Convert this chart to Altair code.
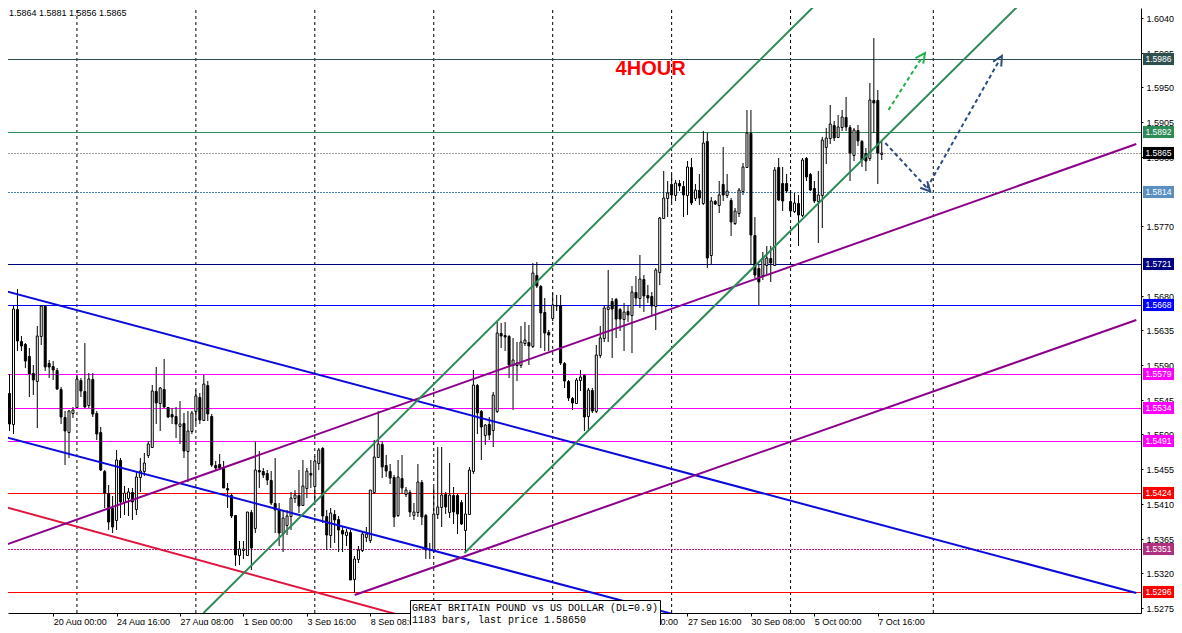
import altair as alt
import pandas as pd

# ---------------- candles (4H bars, index 0 = leftmost visible bar) ----------------
opens = [
 1.5575,1.5554,1.5513,1.5662,1.5621,1.5617,1.5602,1.5580,1.5569,1.5627,
 1.5666,1.5592,1.5589,1.5583,1.5559,1.5522,1.5503,1.5528,1.5536,1.5571,
 1.5556,1.5538,1.5572,1.5528,1.5503,1.5453,1.5424,1.5405,1.5389,1.5467,
 1.5413,1.5418,1.5426,1.5403,1.5445,1.5452,1.5474,1.5484,1.5556,1.5541,
 1.5559,1.5535,1.5526,1.5524,1.5511,1.5515,1.5478,1.5505,1.5530,1.5549,
 1.5519,1.5564,1.5524,1.5461,1.5462,1.5456,1.5431,1.5422,1.5395,1.5344,
 1.5350,1.5344,1.5400,1.5379,1.5454,1.5452,1.5450,1.5441,1.5411,1.5403,
 1.5372,1.5383,1.5394,1.5418,1.5422,1.5409,1.5431,1.5450,1.5433,1.5463,
 1.5482,1.5394,1.5370,1.5397,1.5391,1.5376,1.5370,1.5374,1.5313,1.5339,
 1.5350,1.5367,1.5363,1.5426,1.5471,1.5488,1.5460,1.5452,1.5445,1.5395,
 1.5443,1.5423,1.5426,1.5395,1.5400,1.5439,1.5395,1.5352,1.5350,1.5397,
 1.5406,1.5423,1.5400,1.5421,1.5421,1.5413,1.5376,1.5397,1.5452,1.5564,
 1.5530,1.5499,1.5514,1.5506,1.5530,1.5631,1.5629,1.5627,1.5590,1.5590,
 1.5590,1.5618,1.5620,1.5614,1.5707,1.5692,1.5659,1.5633,1.5651,1.5668,
 1.5668,1.5592,1.5569,1.5547,1.5541,1.5570,1.5577,1.5524,1.5558,1.5530,
 1.5603,1.5625,1.5662,1.5673,1.5675,1.5662,1.5649,1.5660,1.5655,1.5685,
 1.5677,1.5701,1.5681,1.5679,1.5666,1.5711,1.5780,1.5806,1.5824,1.5811,
 1.5826,1.5822,1.5811,1.5847,1.5806,1.5817,1.5800,1.5880,1.5733,1.5802,
 1.5798,1.5825,1.5811,1.5804,1.5774,1.5787,1.5815,1.5847,1.5891,1.5759,
 1.5716,1.5707,1.5720,1.5729,1.5720,1.5847,1.5826,1.5826,1.5802,1.5789,
 1.5800,1.5785,1.5858,1.5837,1.5819,1.5802,1.5811,1.5873,1.5884,1.5901,
 1.5886,1.5899,1.5912,1.5899,1.5862,1.5895,1.5880,1.5865,1.5858,1.5934,
 1.5934,1.5864]
highs = [
 1.5580,1.5578,1.5668,1.5688,1.5627,1.5618,1.5612,1.5590,1.5640,1.5668,
 1.5668,1.5597,1.5595,1.5586,1.5562,1.5530,1.5532,1.5536,1.5577,1.5573,
 1.5618,1.5580,1.5580,1.5530,1.5510,1.5454,1.5435,1.5420,1.5480,1.5469,
 1.5433,1.5430,1.5430,1.5452,1.5469,1.5476,1.5491,1.5564,1.5588,1.5562,
 1.5598,1.5536,1.5534,1.5536,1.5543,1.5528,1.5530,1.5530,1.5558,1.5554,
 1.5577,1.5569,1.5526,1.5465,1.5475,1.5465,1.5437,1.5424,1.5395,1.5362,
 1.5362,1.5400,1.5402,1.5491,1.5478,1.5456,1.5454,1.5452,1.5469,1.5411,
 1.5402,1.5402,1.5426,1.5428,1.5454,1.5467,1.5456,1.5467,1.5472,1.5482,
 1.5484,1.5402,1.5405,1.5402,1.5394,1.5381,1.5378,1.5376,1.5342,1.5355,
 1.5374,1.5380,1.5428,1.5493,1.5530,1.5491,1.5473,1.5462,1.5447,1.5467,
 1.5473,1.5432,1.5428,1.5411,1.5462,1.5441,1.5397,1.5359,1.5432,1.5484,
 1.5484,1.5426,1.5463,1.5432,1.5423,1.5415,1.5423,1.5458,1.5583,1.5566,
 1.5532,1.5514,1.5522,1.5555,1.5646,1.5644,1.5646,1.5629,1.5625,1.5620,
 1.5640,1.5646,1.5642,1.5722,1.5724,1.5694,1.5677,1.5636,1.5683,1.5681,
 1.5681,1.5594,1.5571,1.5549,1.5573,1.5584,1.5579,1.5560,1.5560,1.5616,
 1.5640,1.5668,1.5713,1.5677,1.5677,1.5664,1.5670,1.5668,1.5692,1.5705,
 1.5733,1.5707,1.5694,1.5685,1.5716,1.5782,1.5841,1.5828,1.5837,1.5830,
 1.5830,1.5828,1.5854,1.5858,1.5824,1.5837,1.5893,1.5891,1.5808,1.5804,
 1.5828,1.5873,1.5837,1.5806,1.5793,1.5819,1.5852,1.5921,1.5921,1.5782,
 1.5720,1.5737,1.5744,1.5744,1.5847,1.5858,1.5847,1.5837,1.5817,1.5813,
 1.5811,1.5858,1.5860,1.5839,1.5828,1.5841,1.5886,1.5897,1.5927,1.5906,
 1.5914,1.5921,1.5938,1.5901,1.5897,1.5901,1.5882,1.5871,1.5955,1.6014,
 1.5947,1.5881]
lows = [
 1.5538,1.5504,1.5500,1.5608,1.5608,1.5586,1.5549,1.5551,1.5508,1.5616,
 1.5582,1.5573,1.5571,1.5558,1.5513,1.5461,1.5469,1.5521,1.5534,1.5549,
 1.5534,1.5534,1.5523,1.5493,1.5452,1.5405,1.5376,1.5372,1.5376,1.5392,
 1.5396,1.5394,1.5389,1.5396,1.5426,1.5446,1.5470,1.5482,1.5513,1.5504,
 1.5534,1.5521,1.5513,1.5495,1.5487,1.5469,1.5439,1.5500,1.5513,1.5513,
 1.5517,1.5517,1.5458,1.5454,1.5454,1.5430,1.5405,1.5392,1.5329,1.5331,
 1.5338,1.5342,1.5324,1.5372,1.5430,1.5444,1.5435,1.5409,1.5372,1.5355,
 1.5348,1.5370,1.5376,1.5411,1.5398,1.5407,1.5418,1.5430,1.5411,1.5454,
 1.5385,1.5350,1.5353,1.5359,1.5348,1.5348,1.5356,1.5311,1.5294,1.5333,
 1.5348,1.5360,1.5359,1.5423,1.5471,1.5443,1.5445,1.5436,1.5380,1.5393,
 1.5423,1.5419,1.5393,1.5389,1.5393,1.5382,1.5339,1.5339,1.5346,1.5390,
 1.5380,1.5397,1.5392,1.5384,1.5371,1.5382,1.5347,1.5395,1.5449,1.5501,
 1.5467,1.5486,1.5493,1.5484,1.5528,1.5612,1.5608,1.5573,1.5532,1.5569,
 1.5586,1.5614,1.5590,1.5612,1.5690,1.5612,1.5608,1.5608,1.5647,1.5660,
 1.5590,1.5560,1.5543,1.5532,1.5539,1.5556,1.5504,1.5504,1.5528,1.5528,
 1.5599,1.5620,1.5620,1.5599,1.5625,1.5634,1.5608,1.5646,1.5605,1.5668,
 1.5664,1.5659,1.5670,1.5655,1.5636,1.5694,1.5780,1.5782,1.5800,1.5802,
 1.5815,1.5782,1.5785,1.5798,1.5802,1.5798,1.5798,1.5716,1.5720,1.5798,
 1.5787,1.5802,1.5806,1.5757,1.5772,1.5782,1.5811,1.5845,1.5720,1.5703,
 1.5666,1.5700,1.5707,1.5698,1.5720,1.5802,1.5789,1.5813,1.5782,1.5787,
 1.5744,1.5782,1.5828,1.5815,1.5800,1.5748,1.5767,1.5850,1.5876,1.5880,
 1.5884,1.5893,1.5893,1.5828,1.5854,1.5874,1.5847,1.5841,1.5854,1.5891,
 1.5824,1.5856]
closes = [
 1.5551,1.5513,1.5662,1.5621,1.5615,1.5595,1.5578,1.5570,1.5627,1.5666,
 1.5588,1.5588,1.5584,1.5559,1.5522,1.5504,1.5530,1.5532,1.5572,1.5556,
 1.5536,1.5572,1.5526,1.5500,1.5454,1.5424,1.5387,1.5380,1.5467,1.5413,
 1.5424,1.5426,1.5413,1.5445,1.5452,1.5463,1.5487,1.5556,1.5541,1.5560,
 1.5536,1.5523,1.5523,1.5513,1.5513,1.5478,1.5505,1.5528,1.5550,1.5519,
 1.5565,1.5526,1.5461,1.5457,1.5456,1.5431,1.5428,1.5394,1.5344,1.5351,
 1.5352,1.5400,1.5353,1.5454,1.5451,1.5448,1.5441,1.5411,1.5402,1.5372,
 1.5392,1.5394,1.5418,1.5422,1.5407,1.5433,1.5452,1.5448,1.5465,1.5480,
 1.5394,1.5370,1.5398,1.5389,1.5376,1.5371,1.5374,1.5311,1.5339,1.5350,
 1.5371,1.5371,1.5428,1.5471,1.5488,1.5458,1.5452,1.5443,1.5393,1.5445,
 1.5430,1.5428,1.5400,1.5400,1.5439,1.5393,1.5350,1.5350,1.5397,1.5406,
 1.5421,1.5406,1.5422,1.5400,1.5397,1.5384,1.5397,1.5454,1.5564,1.5528,
 1.5510,1.5512,1.5499,1.5551,1.5631,1.5627,1.5626,1.5590,1.5597,1.5592,
 1.5620,1.5622,1.5614,1.5709,1.5692,1.5657,1.5631,1.5629,1.5668,1.5666,
 1.5592,1.5569,1.5547,1.5541,1.5570,1.5575,1.5522,1.5558,1.5530,1.5603,
 1.5625,1.5664,1.5665,1.5662,1.5649,1.5649,1.5659,1.5655,1.5685,1.5677,
 1.5702,1.5679,1.5677,1.5666,1.5713,1.5780,1.5806,1.5813,1.5811,1.5826,
 1.5822,1.5811,1.5847,1.5800,1.5817,1.5806,1.5878,1.5729,1.5802,1.5799,
 1.5811,1.5811,1.5815,1.5776,1.5789,1.5817,1.5847,1.5891,1.5759,1.5707,
 1.5698,1.5729,1.5729,1.5722,1.5843,1.5804,1.5802,1.5815,1.5789,1.5800,
 1.5785,1.5856,1.5834,1.5817,1.5802,1.5811,1.5882,1.5884,1.5902,1.5884,
 1.5899,1.5912,1.5899,1.5865,1.5895,1.5880,1.5856,1.5854,1.5934,1.5929,
 1.5865,1.5865]
bar_index = list(range(len(opens)))

# ---------------- horizontal price levels ----------------
level_prices = [1.5986, 1.5892, 1.5865, 1.5814, 1.5721, 1.5668, 1.5579, 1.5534, 1.5491, 1.5424, 1.5351, 1.5296]
level_line_colors = ["#2F4F4F", "#2E8B57", "#A0A0A0", "#4682B4", "#000080", "#0000FF",
                     "#FF00FF", "#FF00FF", "#FF00FF", "#FF0000", "#C71585", "#FF0000"]
level_box_colors = ["#2F4F4F", "#2E8B57", "#000000", "#5A8FC0", "#000080", "#0000FF",
                    "#FF00FF", "#FF00FF", "#FF00FF", "#FF0000", "#B03080", "#FF0000"]
level_dotted = [False, False, True, True, False, False, False, False, False, False, True, False]

# ---------------- trend lines (bar index, price) ----------------
trend_b0 = [-0.075, -0.075, -0.075, -0.075, 88.05, 49.925, 115.75]
trend_p0 = [1.568529, 1.549669, 1.540661, 1.535671, 1.529190, 1.526857, 1.534595]
trend_b1 = [285.2, 285.2, 285.2, 285.2, 285.2, 205.5, 256.9]
trend_p1 = [1.529449, 1.510784, 1.500363, 1.587647, 1.564834, 1.606312, 1.606312]
trend_colors = ["#0A0ADC", "#0A0ADC", "#E0143C", "#8B008B", "#8B008B", "#2E8B57", "#2E8B57"]

# ---------------- dashed forecast arrows ----------------
arrow_b0 = [222.7, 221.9, 232.4]
arrow_p0 = [1.592054, 1.587777, 1.581944]
arrow_b1 = [231.2, 232.4, 250.7]
arrow_p1 = [1.598924, 1.581944, 1.598535]
arrow_colors = ["#22B14C", "#2B4C7E", "#2B4C7E"]
arrow_angles = [36, 137, 30]

# ---------------- grid / axis ----------------
grid_bars = [18, 48, 78, 108, 138, 168, 198, 234]
# tick labels (those fully covered by the info box / price boxes in the original are not drawn)
time_tick_bars = [-4, 12, 28, 44, 60, 76, 92, 156, 172, 188, 204, 220]
time_tick_labels = ["17 Aug 08:00", "20 Aug 00:00", "24 Aug 16:00", "27 Aug 08:00", "1 Sep 00:00",
                    "3 Sep 16:00", "8 Sep 08:00", "23 Sep 00:00", "27 Sep 16:00",
                    "30 Sep 08:00", "5 Oct 00:00", "7 Oct 16:00"]
price_ticks = [1.6040, 1.5995, 1.5950, 1.5905, 1.5860, 1.5770, 1.5680,
               1.5635, 1.5590, 1.5545, 1.5500, 1.5455, 1.5410, 1.5365, 1.5320, 1.5275]

FONT = "Liberation Sans"
XDOM = [1.875, 285.125]
YDOM = [1.526857, 1.605275]
xs = alt.Scale(domain=XDOM, nice=False, zero=False)
ys = alt.Scale(domain=YDOM, nice=False, zero=False, round=True)

label_expr = " : ".join(
    f"datum.value == {b} ? '{t}'" for b, t in zip(time_tick_bars, time_tick_labels)) + " : ''"

x_axis = alt.Axis(values=time_tick_bars, labelExpr=label_expr, title=None, grid=False,
                  orient="bottom", labelAlign="left", labelBaseline="top", labelPadding=1,
                  tickSize=3, tickColor="black", domainColor="black", labelColor="black",
                  labelFont=FONT, labelFontSize=9, labelOverlap=False, labelFlush=False,
                  labelBound=False, zindex=0)
y_axis = alt.Axis(values=price_ticks, format=".4f", title=None, grid=False, orient="right",
                  tickSize=2, tickColor="black", domainColor="black", labelColor="black",
                  labelFont=FONT, labelFontSize=9, labelPadding=3, labelOverlap=False,
                  labelFlush=False, zindex=0)


def X(field):
    return alt.X(field, scale=xs, axis=x_axis)


def Y(field):
    return alt.Y(field, scale=ys, axis=y_axis)


candles = pd.DataFrame({"bar": bar_index, "open": opens, "high": highs, "low": lows, "close": closes})
candles["fill"] = ["#FFFFFF" if c >= o else "#000000" for o, c in zip(opens, closes)]

levels = pd.DataFrame({"price": level_prices, "line": level_line_colors, "box": level_box_colors,
                       "dotted": level_dotted,
                       "label": [f"{p:.4f}" for p in level_prices]})
trends = pd.DataFrame({"b0": trend_b0, "p0": trend_p0, "b1": trend_b1, "p1": trend_p1, "col": trend_colors})
arrows = pd.DataFrame({"b0": arrow_b0, "p0": arrow_p0, "b1": arrow_b1, "p1": arrow_p1,
                       "col": arrow_colors, "ang": arrow_angles})
grid = pd.DataFrame({"bar": grid_bars, "lo": [YDOM[0]] * len(grid_bars), "hi": [YDOM[1]] * len(grid_bars)})

grid_layer = alt.Chart(grid).mark_rule(color="black", strokeWidth=1, strokeDash=[3, 3], clip=True).encode(
    x=X("bar:Q"), y=Y("lo:Q"), y2="hi:Q",
)

solid_levels = alt.Chart(levels).transform_filter("!datum.dotted").mark_rule(
    strokeWidth=1, yOffset=0.5, clip=True).encode(
    y=Y("price:Q"), color=alt.Color("line:N", scale=None),
)
dotted_levels = alt.Chart(levels).transform_filter("datum.dotted").mark_rule(
    strokeWidth=1, strokeDash=[2, 1], yOffset=0.5, clip=True).encode(
    y=Y("price:Q"), color=alt.Color("line:N", scale=None),
)

wicks = alt.Chart(candles).mark_rule(color="black", strokeWidth=1, clip=True).encode(
    x=X("bar:Q"), y=Y("low:Q"), y2="high:Q",
)
bodies = alt.Chart(candles).mark_bar(size=2, stroke="black", strokeWidth=1, yOffset=0.5, clip=True).encode(
    x=X("bar:Q"), y=Y("open:Q"), y2="close:Q",
    fill=alt.Fill("fill:N", scale=None),
)

trend_layer = alt.Chart(trends).mark_rule(strokeWidth=2, clip=True).encode(
    x=X("b0:Q"), x2="b1:Q", y=Y("p0:Q"), y2="p1:Q",
    color=alt.Color("col:N", scale=None),
)

arrow_lines = alt.Chart(arrows).mark_rule(strokeWidth=2, strokeDash=[4, 3], clip=True).encode(
    x=X("b0:Q"), x2="b1:Q", y=Y("p0:Q"), y2="p1:Q",
    color=alt.Color("col:N", scale=None),
)
arrow_heads = alt.Chart(arrows).mark_point(shape="M-1,1L0,-1L1,1", size=90, filled=False,
                                           strokeWidth=2, opacity=1, clip=True).encode(
    x=X("b1:Q"), y=Y("p1:Q"),
    color=alt.Color("col:N", scale=None),
    angle=alt.Angle("ang:Q", scale=None),
)

BOX_X = 1150.5
boxes = alt.Chart(levels).mark_point(shape="M-1,-0.39L1,-0.39L1,0.39L-1,0.39Z", size=961,
                                     filled=True, opacity=1, strokeWidth=0).encode(
    x=alt.value(BOX_X), y=Y("price:Q"),
    color=alt.Color("box:N", scale=None),
)
box_text = alt.Chart(levels).mark_text(font=FONT, fontSize=8.5, color="white", align="center",
                                       baseline="middle").encode(
    x=alt.value(BOX_X), y=Y("price:Q"), text="label:N",
)

title_df = pd.DataFrame({"bar": [162.7], "price": [1.59659], "t": ["4HOUR"]})
title_text = alt.Chart(title_df).mark_text(font=FONT, fontSize=20, fontWeight="bold", color="#FF0000",
                                           align="center", baseline="alphabetic").encode(
    x=X("bar:Q"), y=Y("price:Q"), text="t:N",
)

header_df = pd.DataFrame({"t": ["1.5864 1.5881 1.5856 1.5865"]})
header = alt.Chart(header_df).mark_text(font=FONT, fontSize=9, color="black", align="left",
                                        baseline="alphabetic").encode(
    x=alt.value(1), y=alt.value(8), text="t:N")

info_df = pd.DataFrame({"l1": ["GREAT BRITAIN POUND vs US DOLLAR (DL=0.9)"],
                        "l2": ["1183 bars, last price 1.58650"]})
info_box = alt.Chart(info_df).mark_rect(fill="white", stroke="black", strokeWidth=1).encode(
    x=alt.value(402.5), x2=alt.value(652.5), y=alt.value(592.5), y2=alt.value(630))
info_l1 = alt.Chart(info_df).mark_text(font="Liberation Mono", fontSize=10, color="black",
                                       align="left", baseline="alphabetic").encode(
    x=alt.value(404), y=alt.value(603), text="l1:N")
info_l2 = alt.Chart(info_df).mark_text(font="Liberation Mono", fontSize=10, color="black",
                                       align="left", baseline="alphabetic").encode(
    x=alt.value(404), y=alt.value(615), text="l2:N")

chart = alt.layer(
    grid_layer, solid_levels, dotted_levels, wicks, bodies, trend_layer,
    arrow_lines, arrow_heads, title_text, header, boxes, box_text,
    info_box, info_l1, info_l2,
).properties(
    width=1133, height=605,
    autosize=alt.AutoSizeParams(type="none"),
    padding={"left": 0, "top": 0, "right": 33, "bottom": 12},
    background="white",
).configure_view(stroke=None)

chart.save("out.html", embed_options={"renderer": "svg", "actions": False})
